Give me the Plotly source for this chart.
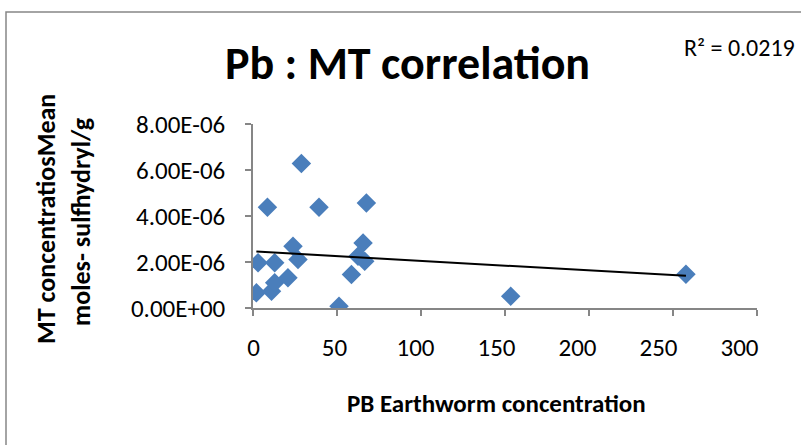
import numpy as np
import plotly.graph_objects as go

# Data
pb_earthworm = [2.0, 3.0, 8.6, 11.0, 12.9, 12.9, 20.8, 23.8, 26.8, 28.8,
                39.3, 51.2, 58.6, 62.5, 65.5, 66.5, 67.5, 153.4, 257.7]
mt_conc = [0.66e-6, 1.97e-6, 4.38e-6, 0.73e-6, 1.10e-6, 1.97e-6, 1.31e-6, 2.69e-6,
           2.11e-6, 6.28e-6, 4.38e-6, 0.08e-6, 1.46e-6, 2.25e-6, 2.83e-6, 2.03e-6,
           4.57e-6, 0.51e-6, 1.47e-6]

x_tickvals = [0, 50, 100, 150, 200, 250, 300]
y_tickvals = [0, 2e-6, 4e-6, 6e-6, 8e-6]
y_ticktext = ["0.00E+00", "2.00E-06", "4.00E-06", "6.00E-06", "8.00E-06"]

title_text = "Pb : MT correlation"
r2_text = "R² = 0.0219"
x_title = "PB Earthworm concentration"
y_title_lines = ["MT concentratiosMean", "moles- sulfhydryl/g"]

FONT = "Calibri, Carlito, Lato, sans-serif"
W, H = 801, 445
L, R, T, B = 253, 44, 124, 137
PW, PH = W - L - R, H - T - B


def px(xp):
    return (xp - L) / PW


def py(yp):
    return (H - B - yp) / PH


# Linear trendline fitted from the data
slope, intercept = np.polyfit(pb_earthworm, mt_conc, 1)
tx = np.array([min(pb_earthworm), max(pb_earthworm)])
ty = slope * tx + intercept

fig = go.Figure()
fig.add_trace(go.Scatter(
    x=pb_earthworm, y=mt_conc, mode="markers",
    marker=dict(symbol="diamond", size=15, color="#4A7EBB", line=dict(width=0)),
    showlegend=False, hoverinfo="skip"))
fig.add_trace(go.Scatter(
    x=tx, y=ty, mode="lines", line=dict(color="black", width=2),
    showlegend=False, hoverinfo="skip"))
# invisible trace so the label axis (slightly compressed, as in the reference) is drawn
fig.add_trace(go.Scatter(
    x=[x_tickvals[0]], y=[y_tickvals[0]], xaxis="x2", mode="markers",
    marker=dict(opacity=0), showlegend=False, hoverinfo="skip"))

tickfont = dict(family=FONT, size=25, color="black")
axis_common = dict(showgrid=False, zeroline=False, showline=True,
                   linecolor="#868686", linewidth=1.5, ticks="outside",
                   ticklen=6, tickcolor="#868686", tickwidth=1.5)

fig.update_layout(
    xaxis=dict(range=[0, 300], tickvals=x_tickvals, showticklabels=False,
               **axis_common),
    xaxis2=dict(overlaying="x", side="bottom", anchor="y",
                range=[-0.3, -0.3 + 504 / 1.62], tickvals=x_tickvals,
                showline=False, showgrid=False, zeroline=False, ticks="",
                ticklabelstandoff=22, tickfont=tickfont),
    yaxis=dict(range=[0, 8e-6], tickvals=y_tickvals, ticktext=y_ticktext,
               ticklabelstandoff=15, tickfont=tickfont, **axis_common),
)

annotations = [
    dict(text=f"<b>{title_text}</b>", x=px(407.5), y=py(63), xanchor="center",
         yanchor="middle", font=dict(family=FONT, size=46, color="black")),
    dict(text=r2_text, x=px(797), y=py(47), xanchor="right", yanchor="middle",
         font=dict(family=FONT, size=24, color="black")),
    dict(text=f"<b>{x_title}</b>", x=px(496), y=py(403), xanchor="center",
         yanchor="middle", font=dict(family=FONT, size=25, color="black")),
    dict(text=f"<b>{y_title_lines[0]}</b>", x=px(46), y=py(219), xanchor="center",
         yanchor="middle", textangle=-90,
         font=dict(family=FONT, size=26, color="black")),
    dict(text=f"<b>{y_title_lines[1]}</b>", x=px(81), y=py(222), xanchor="center",
         yanchor="middle", textangle=-90,
         font=dict(family=FONT, size=26, color="black")),
]
for a in annotations:
    a.update(xref="paper", yref="paper", showarrow=False)

fig.update_layout(
    width=W, height=H, autosize=False,
    margin=dict(l=L, r=R, t=T, b=B, pad=0),
    paper_bgcolor="white", plot_bgcolor="white",
    annotations=annotations,
    shapes=[dict(type="rect", xref="paper", yref="paper",
                 x0=px(6), x1=px(830), y0=py(470), y1=py(12),
                 line=dict(color="#868686", width=1.5), layer="below")],
)

fig.write_html(
    "out.html",
    config={"displayModeBar": False},
    post_script="document.body.style.margin='0';document.body.style.overflow='hidden';",
)
